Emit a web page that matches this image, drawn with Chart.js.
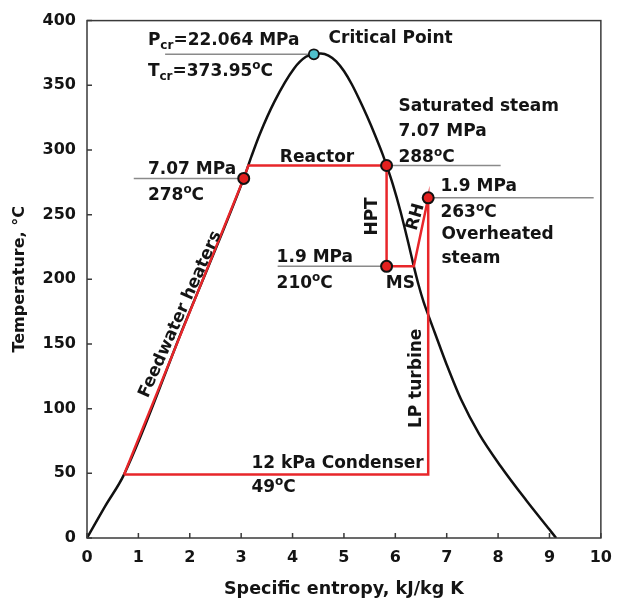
<!DOCTYPE html>
<html><head><meta charset="utf-8">
<script src="https://cdn.jsdelivr.net/npm/chart.js@4/dist/chart.umd.min.js"></script>
<style>html,body{margin:0;padding:0;background:#fff}</style>
</head><body>
<canvas id="c" width="622" height="609"></canvas>
<script>
// Saturation dome (entropy kJ/kg K, temperature °C)
const domeS = [0, 0.36, 0.72, 1.88, 3.05, 3.2, 3.36, 3.65, 4.03, 4.26, 4.415, 4.55, 4.7, 4.85, 5.0, 5.15, 5.3, 5.45, 5.6, 5.75, 5.83, 5.95, 6.1, 6.25, 6.36, 6.45, 6.55, 6.64, 6.77, 7.0, 7.28, 7.63, 8.05, 8.55, 9.0, 9.13];
const domeT = [0, 25, 49, 163.5, 278, 295, 312, 337.6, 363, 372, 373.95, 374.6, 373, 368.5, 361, 351, 339, 326, 312, 297, 288, 273.6, 252.6, 228.6, 210, 196, 182.5, 172.5, 158.5, 134, 107, 80.5, 55.5, 29, 6.5, 0];
// Power cycle path
const cycleS = [0.72, 3.05, 3.14, 5.83, 5.83, 6.36, 6.64, 6.64, 0.72];
const cycleT = [49, 278, 288, 288, 210, 210, 263, 49, 49];
// State points
const stateS = [3.05, 5.83, 5.83, 6.64];
const stateT = [278, 288, 210, 263];
const criticalS = [4.415];
const criticalT = [373.95];
// Guide (leader) lines: start/end entropy, temperature
const guideStartS = [1.52, 0.91, 5.83, 6.64, 3.71];
const guideEndS = [4.415, 3.05, 8.05, 9.86, 5.83];
const guideT = [373.95, 278, 288, 263, 210];
// Tick labels
const xTicks = ['0','1','2','3','4','5','6','7','8','9','10'];
const yTicks = ['0','50','100','150','200','250','300','350','400'];

const FONT = '"DejaVu Sans", sans-serif';
const TXT = '#141414';

// Annotations: text parts, anchor in data coords
const notes = [
  {p:[['P'],['cr','sub'],['=22.064 MPa']], s:1.185, T:381.0},
  {p:[['T'],['cr','sub'],['=373.95'],['o','sup'],['C']], s:1.185, T:357.2},
  {p:[['Critical Point']], s:4.70, T:382.4},
  {p:[['7.07 MPa']], s:1.185, T:281.5},
  {p:[['278'],['o','sup'],['C']], s:1.185, T:261.6},
  {p:[['Saturated steam']], s:6.061, T:330.4},
  {p:[['7.07 MPa']], s:6.061, T:310.7},
  {p:[['288'],['o','sup'],['C']], s:6.061, T:290.4},
  {p:[['Reactor']], s:3.753, T:290.4},
  {p:[['1.9 MPa']], s:6.878, T:267.9},
  {p:[['263'],['o','sup'],['C']], s:6.878, T:247.8},
  {p:[['Overheated']], s:6.897, T:231.2},
  {p:[['steam']], s:6.897, T:212.6},
  {p:[['HPT']], s:5.564, T:248.6, rot:-90},
  {p:[['RH']], s:6.40, T:248.2, rot:-74},
  {p:[['1.9 MPa']], s:3.69, T:213.2},
  {p:[['210'],['o','sup'],['C']], s:3.69, T:193.5},
  {p:[['MS']], s:5.813, T:193.5},
  {p:[['LP turbine']], s:6.405, T:123.4, rot:-90},
  {p:[['12 kPa Condenser']], s:3.199, T:53.8},
  {p:[['49'],['o','sup'],['C']], s:3.199, T:35.4},
  {p:[['Feedwater heaters']], s:1.816, T:172.8, rot:-66}
];

function drawRich(ctx, parts, x, y, size, centered) {
  const segs = parts.map(([t, k]) => {
    const fs = k ? Math.round(size * 0.68) : size;
    ctx.font = 'bold ' + fs + 'px ' + FONT;
    return {t, fs, w: ctx.measureText(t).width, dy: k === 'sup' ? -size * 0.40 : (k === 'sub' ? size * 0.22 : 0)};
  });
  const total = segs.reduce((a, s) => a + s.w, 0);
  let cx = centered ? x - total / 2 : x;
  ctx.textAlign = 'left';
  ctx.textBaseline = centered ? 'middle' : 'alphabetic';
  for (const s of segs) {
    ctx.font = 'bold ' + s.fs + 'px ' + FONT;
    ctx.fillText(s.t, cx, y + s.dy);
    cx += s.w;
  }
}

const overlay = {
  id: 'overlay',
  afterDraw(chart) {
    const {ctx, chartArea: a, scales: {x, y}} = chart;
    ctx.save();
    ctx.strokeStyle = '#3a3a3a';
    ctx.lineWidth = 1.5;
    ctx.strokeRect(a.left, a.top, a.right - a.left, a.bottom - a.top);
    ctx.beginPath();
    x.ticks.forEach(t => { const px = x.getPixelForValue(t.value); ctx.moveTo(px, a.bottom); ctx.lineTo(px, a.bottom - 5); });
    y.ticks.forEach(t => { const py = y.getPixelForValue(t.value); ctx.moveTo(a.left, py); ctx.lineTo(a.left + 5, py); });
    ctx.stroke();
    ctx.fillStyle = TXT;
    for (const n of notes) {
      const px = x.getPixelForValue(n.s), py = y.getPixelForValue(n.T);
      if (n.rot) {
        ctx.save();
        ctx.translate(px, py);
        ctx.rotate(n.rot * Math.PI / 180);
        drawRich(ctx, n.p, 0, 0, 17, true);
        ctx.restore();
      } else {
        drawRich(ctx, n.p, px, py, 17, false);
      }
    }
    ctx.restore();
  }
};

const pts = (S, T) => S.map((s, i) => ({x: s, y: T[i]}));
const guides = guideT.map((t, i) => ({
  label: 'guide' + i, data: [{x: guideStartS[i], y: t}, {x: guideEndS[i], y: t}],
  showLine: true, borderColor: '#8a8a8a', borderWidth: 1.5, pointRadius: 0, tension: 0
}));

new Chart(document.getElementById('c'), {
  type: 'scatter',
  data: {datasets: [
    {label: 'Critical point', data: pts(criticalS, criticalT), pointRadius: 5, pointBackgroundColor: '#4fc0cc', pointBorderColor: '#111', pointBorderWidth: 1.8, showLine: false},
    {label: 'States', data: pts(stateS, stateT), pointRadius: 5.5, pointBackgroundColor: '#e3201f', pointBorderColor: '#111', pointBorderWidth: 2, showLine: false},
    {label: 'Cycle', data: pts(cycleS, cycleT), showLine: true, borderColor: '#e8262a', borderWidth: 2.5, pointRadius: 0, tension: 0},
    {label: 'Saturation dome', data: pts(domeS, domeT), showLine: true, borderColor: '#111', borderWidth: 2.5, pointRadius: 0, cubicInterpolationMode: 'monotone'},
    ...guides
  ]},
  options: {
    responsive: false, animation: false, devicePixelRatio: 1,
    layout: {padding: {top: 15, right: 12, left: 0, bottom: 0}},
    plugins: {legend: {display: false}, tooltip: {enabled: false}},
    scales: {
      x: {
        type: 'linear', min: 0, max: 10,
        ticks: {stepSize: 1, padding: 10, color: TXT, font: {family: FONT, weight: 'bold', size: 16}, callback: (v, i) => xTicks[i]},
        grid: {display: false, drawTicks: false}, border: {display: false},
        title: {display: true, text: 'Specific entropy, kJ/kg K', color: TXT, font: {family: FONT, weight: 'bold', size: 17.5}, padding: {top: 0, bottom: 9}},
        afterFit(s) { s.height = 71; }
      },
      y: {
        type: 'linear', min: 0, max: 400,
        ticks: {stepSize: 50, padding: 11, color: TXT, font: {family: FONT, weight: 'bold', size: 16}, callback: (v, i) => yTicks[i]},
        grid: {display: false, drawTicks: false}, border: {display: false},
        title: {display: true, text: 'Temperature, °C', color: TXT, font: {family: FONT, weight: 'bold', size: 16}, padding: {top: 10, bottom: 0}},
        afterFit(s) { s.width = 87; }
      }
    }
  },
  plugins: [overlay]
});
</script>
</body></html>
